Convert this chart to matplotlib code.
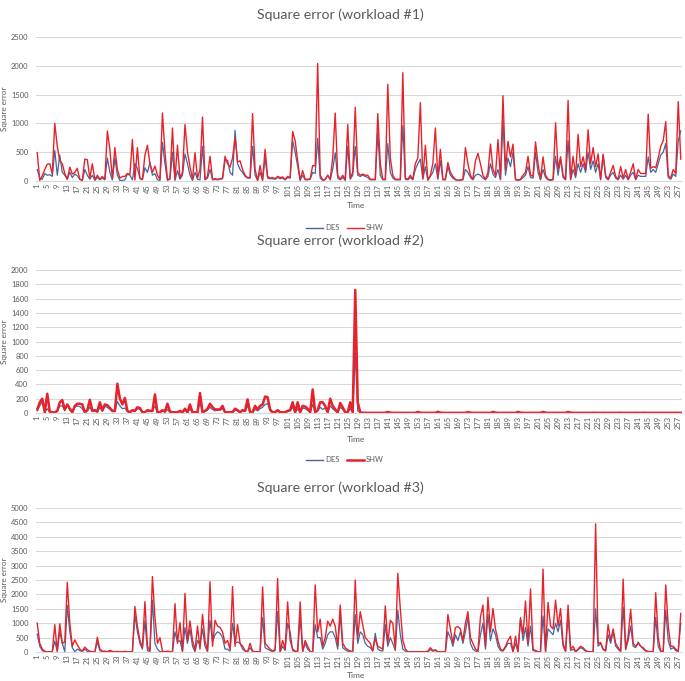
import matplotlib
matplotlib.use("Agg")
import matplotlib.pyplot as plt
from matplotlib.lines import Line2D

plt.rcParams['font.family'] = ['Lato', 'DejaVu Sans']

# ---------------------------------------------------------
# Data
# ---------------------------------------------------------

time = list(range(1, 259))
tick_labels = [str(t) for t in time[::4]]

# workload #1
des_1 = [
    200, 50, 30, 130, 100, 110, 80, 530, 100, 450,
    150, 100, 30, 150, 60, 120, 90, 30, 10, 200,
    100, 30, 100, 10, 60, 20, 50, 20, 400, 150,
    20, 400, 100, 10, 10, 20, 120, 100, 20, 300,
    220, 40, 20, 230, 150, 320, 100, 130, 20, 10,
    670, 300, 10, 30, 500, 10, 180, 30, 100, 470,
    300, 100, 10, 150, 30, 20, 600, 20, 50, 200,
    20, 30, 20, 30, 40, 350, 360, 150, 100, 880,
    300, 200, 150, 80, 50, 50, 600, 100, 10, 150,
    10, 400, 50, 40, 40, 30, 60, 40, 50, 20,
    60, 50, 700, 500, 250, 10, 100, 20, 20, 30,
    150, 130, 740, 50, 10, 20, 100, 20, 200, 490,
    50, 20, 60, 10, 600, 30, 100, 600, 100, 80,
    100, 80, 60, 20, 20, 20, 840, 100, 20, 20,
    650, 150, 50, 20, 20, 20, 960, 30, 20, 60,
    20, 200, 300, 380, 30, 250, 10, 80, 150, 300,
    30, 350, 20, 20, 250, 100, 50, 20, 10, 10,
    20, 200, 150, 60, 20, 100, 120, 100, 50, 20,
    80, 300, 120, 60, 200, 20, 1040, 100, 400, 250,
    500, 20, 10, 20, 60, 100, 250, 60, 50, 500,
    150, 20, 200, 60, 20, 10, 20, 430, 100, 380,
    60, 20, 700, 20, 200, 60, 300, 150, 300, 150,
    500, 200, 350, 150, 300, 20, 470, 60, 20, 100,
    150, 50, 20, 100, 30, 100, 20, 100, 150, 20,
    100, 80, 80, 80, 420, 150, 200, 150, 300, 450,
    500, 650, 60, 30, 120, 80, 700, 870,
]
shw_1 = [
    490, 10, 90, 200, 290, 300, 120, 1000, 600, 350,
    300, 130, 30, 240, 120, 150, 220, 30, 10, 380,
    370, 50, 300, 20, 100, 30, 80, 30, 870, 550,
    30, 580, 200, 50, 80, 80, 130, 110, 720, 20,
    580, 50, 30, 450, 620, 300, 150, 260, 100, 30,
    1180, 500, 30, 40, 920, 30, 620, 50, 150, 980,
    500, 250, 30, 490, 50, 200, 1110, 30, 80, 430,
    30, 40, 30, 40, 50, 430, 300, 240, 400, 750,
    330, 350, 200, 100, 60, 60, 1170, 200, 10, 270,
    20, 550, 80, 50, 60, 40, 80, 60, 70, 30,
    80, 60, 860, 700, 350, 20, 180, 30, 30, 40,
    270, 260, 2040, 100, 20, 30, 100, 30, 400, 1180,
    100, 30, 100, 20, 980, 50, 150, 1280, 150, 100,
    120, 100, 100, 30, 30, 30, 1170, 300, 30, 30,
    1680, 400, 100, 30, 30, 30, 1880, 50, 30, 100,
    30, 300, 400, 1360, 50, 620, 20, 100, 300, 920,
    50, 550, 30, 30, 320, 150, 80, 30, 10, 20,
    30, 580, 300, 100, 30, 350, 480, 300, 100, 30,
    150, 640, 200, 100, 720, 30, 1480, 200, 690, 420,
    640, 30, 20, 30, 100, 150, 430, 100, 80, 680,
    300, 30, 420, 100, 30, 20, 30, 1010, 200, 420,
    100, 30, 1400, 30, 430, 100, 810, 250, 420, 200,
    890, 300, 580, 250, 470, 30, 450, 100, 30, 150,
    270, 80, 30, 250, 50, 200, 30, 150, 300, 30,
    200, 130, 130, 130, 1160, 220, 250, 230, 400, 600,
    700, 1030, 100, 50, 200, 130, 1380, 380,
]

# workload #2
des_2 = [
    30, 100, 160, 10, 60, 10, 5, 5, 20, 100,
    100, 30, 120, 40, 5, 80, 100, 90, 60, 5,
    30, 80, 20, 30, 10, 80, 20, 90, 80, 50,
    20, 20, 160, 100, 60, 70, 20, 5, 30, 20,
    60, 50, 5, 5, 30, 20, 20, 100, 5, 5,
    30, 10, 50, 10, 5, 5, 5, 20, 5, 40,
    5, 60, 5, 5, 5, 150, 5, 20, 40, 80,
    50, 30, 40, 40, 60, 5, 5, 5, 5, 40,
    30, 5, 30, 20, 100, 5, 5, 50, 30, 60,
    80, 120, 130, 30, 5, 5, 30, 5, 5, 5,
    20, 30, 80, 5, 60, 5, 70, 60, 40, 5,
    120, 5, 30, 80, 50, 70, 5, 100, 60, 30,
    5, 80, 50, 5, 5, 60, 5, 840, 30, 5,
    1, 1, 1, 1, 1, 1, 1, 1, 1, 1,
    4, 1, 1, 1, 1, 1, 1, 1, 1, 1,
    1, 1, 4, 1, 1, 1, 1, 1, 1, 1,
    5, 1, 1, 1, 1, 1, 1, 1, 1, 1,
    1, 1, 4, 1, 1, 1, 1, 1, 1, 1,
    1, 1, 4, 1, 1, 1, 1, 1, 1, 1,
    1, 1, 4, 1, 1, 1, 1, 1, 1, 1,
    1, 1, 4, 1, 1, 1, 1, 1, 1, 1,
    1, 1, 4, 1, 1, 1, 1, 1, 1, 1,
    1, 1, 1, 1, 1, 1, 1, 1, 1, 1,
    1, 1, 1, 1, 1, 1, 1, 1, 1, 1,
    1, 1, 1, 1, 1, 1, 1, 1, 1, 1,
    1, 1, 1, 1, 1, 1, 1, 1,
]
shw_2 = [
    50, 150, 200, 10, 270, 20, 10, 10, 30, 150,
    180, 50, 120, 60, 10, 100, 130, 130, 120, 10,
    40, 185, 30, 40, 20, 150, 40, 120, 110, 70,
    30, 30, 410, 200, 120, 210, 30, 10, 40, 30,
    80, 70, 10, 10, 40, 30, 30, 260, 10, 10,
    40, 20, 130, 20, 10, 10, 10, 30, 10, 60,
    10, 120, 10, 10, 10, 280, 10, 30, 60, 130,
    80, 50, 50, 50, 100, 10, 10, 10, 10, 60,
    40, 10, 40, 30, 190, 10, 10, 100, 50, 100,
    120, 230, 220, 50, 10, 10, 40, 10, 10, 10,
    30, 40, 150, 10, 150, 10, 100, 90, 60, 10,
    330, 10, 40, 150, 150, 100, 10, 200, 100, 50,
    10, 140, 80, 10, 10, 150, 10, 1720, 150, 10,
    3, 2, 2, 3, 2, 2, 3, 2, 2, 3,
    15, 5, 2, 2, 3, 2, 2, 3, 2, 2,
    3, 2, 15, 5, 2, 2, 3, 2, 2, 3,
    18, 5, 2, 2, 3, 2, 2, 3, 2, 2,
    3, 2, 14, 5, 2, 2, 3, 2, 2, 3,
    2, 2, 15, 5, 2, 2, 3, 2, 2, 3,
    2, 2, 16, 5, 2, 2, 3, 2, 2, 3,
    2, 2, 15, 5, 2, 2, 3, 2, 2, 3,
    2, 2, 14, 5, 2, 2, 3, 2, 2, 3,
    2, 2, 4, 3, 2, 2, 3, 2, 2, 3,
    2, 2, 4, 3, 2, 2, 3, 2, 2, 3,
    2, 2, 4, 3, 2, 2, 3, 2, 2, 3,
    2, 2, 3, 2, 2, 3, 2, 2,
]

# workload #3
des_3 = [
    620, 200, 50, 10, 5, 5, 5, 380, 10, 720,
    300, 10, 1620, 700, 150, 10, 100, 50, 20, 100,
    20, 10, 5, 5, 350, 50, 10, 10, 5, 30,
    10, 5, 10, 5, 5, 10, 5, 5, 5, 1280,
    700, 300, 100, 1080, 50, 10, 1800, 300, 100, 10,
    10, 5, 10, 5, 5, 700, 350, 400, 10, 850,
    300, 800, 200, 10, 400, 250, 800, 200, 10, 1100,
    350, 600, 700, 650, 500, 100, 100, 30, 1000, 300,
    350, 300, 100, 30, 5, 150, 10, 5, 5, 5,
    1200, 150, 100, 50, 10, 50, 1400, 5, 200, 50,
    1000, 700, 50, 10, 10, 1200, 10, 300, 100, 5,
    5, 950, 500, 500, 100, 300, 600, 700, 700, 500,
    100, 1300, 150, 80, 30, 10, 10, 1300, 300, 700,
    600, 300, 200, 150, 30, 650, 100, 50, 30, 950,
    200, 500, 300, 50, 1450, 600, 100, 30, 5, 5,
    5, 5, 5, 5, 5, 5, 10, 80, 30, 50,
    5, 5, 5, 5, 700, 500, 200, 600, 400, 700,
    300, 700, 1200, 300, 100, 30, 10, 600, 1000, 100,
    1300, 400, 800, 600, 200, 50, 30, 150, 300, 300,
    10, 300, 10, 1200, 400, 850, 200, 900, 50, 30,
    5, 5, 1250, 5, 800, 700, 600, 1000, 700, 1100,
    200, 10, 1300, 50, 100, 5, 80, 150, 100, 30,
    5, 5, 5, 1500, 200, 300, 80, 30, 600, 300,
    700, 200, 100, 10, 1550, 80, 400, 900, 200, 150,
    350, 200, 100, 30, 10, 5, 5, 1200, 200, 10,
    10, 1450, 400, 100, 150, 50, 10, 1000,
]
shw_3 = [
    1000, 300, 100, 30, 10, 10, 10, 950, 30, 980,
    300, 350, 2420, 1000, 200, 420, 250, 100, 30, 170,
    80, 30, 10, 10, 510, 100, 30, 30, 10, 60,
    20, 10, 20, 10, 10, 20, 10, 10, 10, 1580,
    900, 400, 150, 1750, 200, 30, 2620, 1200, 300, 500,
    30, 10, 30, 10, 10, 1680, 300, 1020, 30, 2030,
    400, 1080, 400, 50, 900, 100, 1310, 400, 30, 2440,
    200, 1100, 900, 850, 700, 300, 400, 100, 2270, 200,
    950, 300, 200, 50, 10, 300, 30, 10, 10, 10,
    2260, 300, 200, 100, 30, 100, 2550, 10, 400, 100,
    1740, 400, 100, 30, 30, 1740, 30, 400, 200, 10,
    10, 2330, 700, 1140, 200, 500, 1070, 900, 1140, 900,
    200, 1630, 300, 150, 80, 30, 30, 2500, 500, 1400,
    930, 500, 400, 300, 50, 470, 200, 150, 100, 1600,
    300, 1100, 1000, 100, 2730, 1500, 400, 100, 10, 10,
    10, 10, 10, 10, 10, 10, 30, 150, 50, 80,
    10, 10, 10, 10, 1300, 800, 300, 850, 880, 800,
    400, 1000, 1400, 500, 300, 100, 30, 1220, 1630, 200,
    1900, 700, 1510, 800, 400, 100, 50, 200, 400, 550,
    0, 550, 0, 1160, 600, 1770, 300, 2190, 100, 50,
    10, 10, 2880, 10, 1720, 900, 800, 1800, 900, 1510,
    300, 30, 1630, 100, 200, 10, 100, 200, 150, 50,
    10, 10, 10, 4450, 300, 330, 100, 50, 950, 400,
    800, 300, 150, 30, 2530, 100, 560, 1480, 300, 200,
    300, 200, 150, 50, 20, 10, 10, 2060, 500, 30,
    30, 2330, 900, 200, 200, 100, 20, 1340,
]

# ---------------------------------------------------------
# Plotting
# ---------------------------------------------------------

W, H = 685, 681
BLUE = "#44679f"
RED = "#e8222a"
TXT = "#595959"
GRID = "#d9d9d9"


def px_axes(fig, left, top, right, bottom):
    return fig.add_axes([left / W, 1 - bottom / H, (right - left) / W, (bottom - top) / H])


def style(ax, ymax, ystep):
    ax.set_xlim(0.5, 258.5)
    ax.set_ylim(0, ymax)
    ax.set_yticks(range(0, ymax + 1, ystep))
    ax.set_xticks(time[::4])
    ax.set_xticklabels(tick_labels, rotation=90)
    ax.yaxis.grid(True, color=GRID, linewidth=0.8)
    ax.set_axisbelow(True)
    for s in ax.spines.values():
        s.set_visible(False)
    ax.spines["bottom"].set_visible(True)
    ax.spines["bottom"].set_color(GRID)
    ax.tick_params(axis="both", length=0, labelsize=5.4, labelcolor=TXT)
    ax.tick_params(axis="y", pad=5.5)
    ax.tick_params(axis="x", pad=2)


def legend(fig, x, y, lw_shw):
    handles = [
        Line2D([], [], color=BLUE, lw=1.0),
        Line2D([], [], color=RED, lw=lw_shw),
    ]
    fig.legend(handles, ["DES", "SHW"], loc="center", bbox_to_anchor=(x / W, 1 - y / H),
               ncol=2, frameon=False, fontsize=5.5, labelcolor=TXT,
               handlelength=2.2, handletextpad=0.3, columnspacing=1.0)


fig = plt.figure(figsize=(W / 100, H / 100), dpi=100)

panels = [
    (des_1, shw_1, 2500, 500, 37, 181, 1.0, "Square error (workload #1)", 15, 205, 228),
    (des_2, shw_2, 2000, 200, 270, 413, 1.8, "Square error (workload #2)", 241, 440, 460),
    (des_3, shw_3, 5000, 500, 508, 652, 1.0, "Square error (workload #3)", 488, 676, None),
]

for des, shw, ymax, ystep, top, bottom, lw_shw, title, ty, time_y, leg_y in panels:
    ax = px_axes(fig, 36, top, 682, bottom)
    ax.plot(time, des, color=BLUE, lw=0.9)
    ax.plot(time, shw, color=RED, lw=lw_shw)
    style(ax, ymax, ystep)
    fig.text(340 / W, 1 - ty / H, title, ha="center", va="center", fontsize=10.2, color=TXT)
    fig.text(356 / W, 1 - time_y / H, "Time", ha="center", va="center", fontsize=6, color=TXT)
    fig.text(5 / W, 1 - (top + bottom) / 2 / H, "Square error", ha="center", va="center",
             rotation=90, fontsize=5.8, color=TXT)
    if leg_y is not None:
        legend(fig, 345, leg_y, lw_shw)

fig.savefig("out.png", dpi=100)
